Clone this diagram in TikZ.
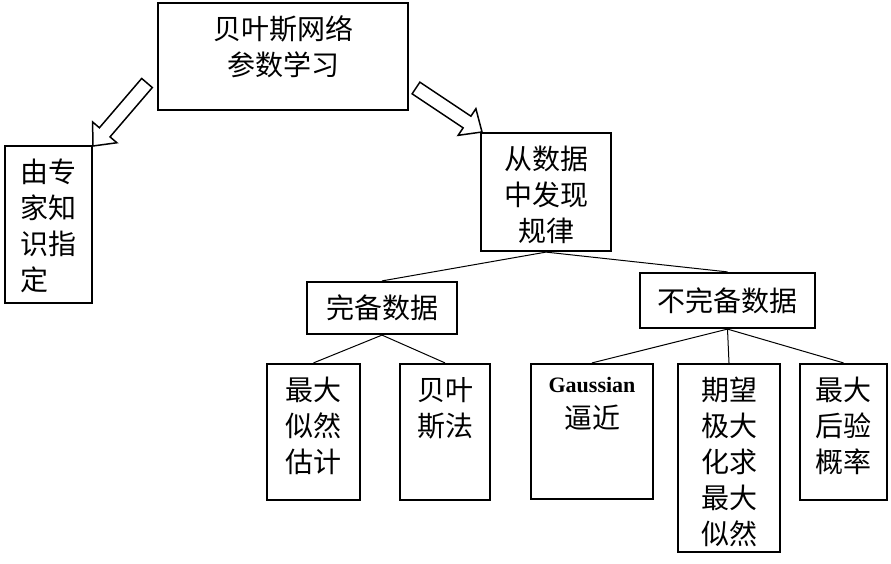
\documentclass[tikz,border=0pt]{standalone}
\usepackage{fontspec}
\setmainfont{Noto Sans CJK SC}
\newfontfamily\latinfont{Liberation Serif}
\usetikzlibrary{calc}

% hollow block arrow from #1 (tail) to #2 (tip)
\newcommand{\blockarrow}[2]{%
	\coordinate (#1-base) at ($(#2)!18pt!(#1)$);
	\draw[barrow] ($(#1)!7pt!90:(#2)$) -- ($(#1-base)!7pt!90:(#2)$)
		-- ($(#1-base)!16pt!90:(#2)$) -- (#2)
		-- ($(#1-base)!16pt!-90:(#2)$) -- ($(#1-base)!7pt!-90:(#2)$)
		-- ($(#1)!7pt!-90:(#2)$) -- cycle;
}

\begin{document}
\begin{tikzpicture}[x=1pt,y=-1pt]
	\tikzstyle{box}=[draw=black,line width=2.2pt,inner sep=0pt,font=\fontsize{28}{36}\selectfont]
	\tikzstyle{txt}=[anchor=north,inner sep=0pt,align=center,yshift=-14pt,font=\fontsize{28}{36}\selectfont]
	\tikzstyle{branch}=[draw=black,line width=1pt]
	\tikzstyle{barrow}=[draw=black,line width=1.5pt,line join=miter,fill=white]
	\useasboundingbox (0,0) rectangle (891,564);
	% boxes
	\node[box,minimum width=250,minimum height=107] (net) at (283,56.5) {};
	\node[box,minimum width=87,minimum height=157] (expert) at (48.5,224.5) {};
	\node[box,minimum width=130,minimum height=118] (data) at (546,192) {};
	\node[box,minimum width=150,minimum height=52] (complete) at (382,308) {完备数据};
	\node[box,minimum width=175,minimum height=55] (incomplete) at (727.5,300.5) {不完备数据};
	\node[box,minimum width=93,minimum height=136] (mle) at (313.5,432) {};
	\node[box,minimum width=90,minimum height=136] (bayes) at (445,432) {};
	\node[box,minimum width=122,minimum height=135] (gauss) at (592,431.5) {};
	\node[box,minimum width=102,minimum height=188] (em) at (729,458) {};
	\node[box,minimum width=87,minimum height=136] (map) at (843.5,432) {};
	% texts
	\node[txt] (net-t) at (net.north) {贝叶斯网络\\参数学习};
	\node[txt,align=left,text width=56pt] (expert-t) at (expert.north) {由专\\家知\\识指\\定};
	\node[txt] (data-t) at (data.north) {从数据\\中发现\\规律};
	\node[txt] (mle-t) at (mle.north) {最大\\似然\\估计};
	\node[txt] (bayes-t) at (bayes.north) {贝叶\\斯法};
	\node[txt] (gauss-t) at (gauss.north) {{\latinfont\fontsize{22}{36}\selectfont\bfseries Gaussian}\\逼近};
	\node[txt] (em-t) at (em.north) {期望\\极大\\化求\\最大\\似然};
	\node[txt] (map-t) at (map.north) {最大\\后验\\概率};
	% tree lines
	\draw[branch] (data.south) -- (complete.north);
	\draw[branch] (data.south) -- (incomplete.north);
	\draw[branch] (complete.south) -- (mle.north);
	\draw[branch] (complete.south) -- (bayes.north);
	\draw[branch] (incomplete.south) -- (gauss.north);
	\draw[branch] (incomplete.south) -- (em.north);
	\draw[branch] (incomplete.south) -- (map.north);
	% block arrows
	\coordinate (net-l) at (147,83);
	\coordinate (net-r) at (416,88);
	\coordinate (expert-tip) at (93,146);
	\coordinate (data-tip) at (482,132);
	\blockarrow{net-l}{expert-tip}
	\blockarrow{net-r}{data-tip}
\end{tikzpicture}
\end{document}
